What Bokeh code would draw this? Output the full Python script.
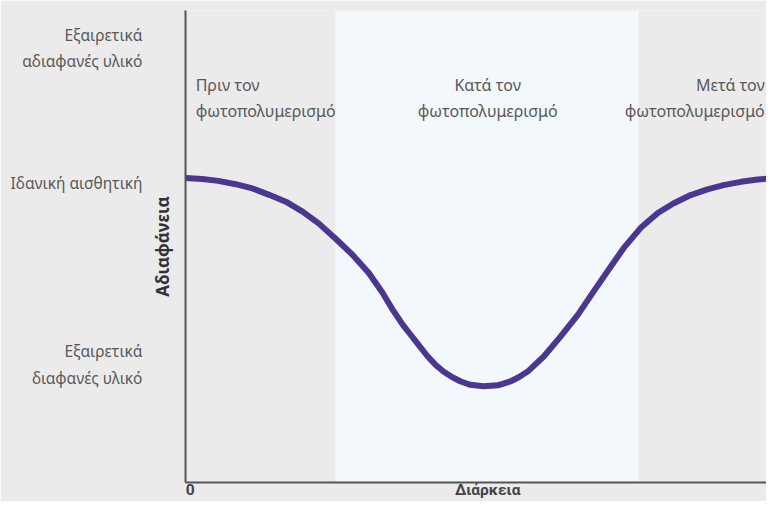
from bokeh.plotting import figure
from bokeh.models import FixedTicker, Range1d, ColumnDataSource, LinearAxis
from bokeh.core.properties import value
from bokeh.embed import file_html
from bokeh.resources import INLINE

# ---- data ----
time = [0, 2.8, 5.5, 8.4, 11.2, 13.9, 16.8, 19.6, 22.3, 25.1, 28.0, 30.7, 33.0, 34.8,
        36.4, 37.7, 39.0, 40.5, 41.9, 43.2, 44.7, 46.1, 47.7, 49.9, 52.3, 54.4, 55.8,
        57.3, 60.0, 62.8, 65.7, 68.3, 71.2, 73.4, 76.2, 79.1, 81.7, 84.6, 87.4, 90.1,
        93.0, 95.8, 100]
opacity = [64.5, 64.3, 63.9, 63.2, 62.3, 61.0, 59.5, 57.4, 54.9, 51.7, 48.2, 44.4, 40.2, 36.4,
           33.4, 31.3, 29.2, 26.8, 24.9, 23.5, 22.3, 21.4, 20.7, 20.4, 20.6, 21.4, 22.3,
           23.5, 26.7, 30.9, 35.5, 40.4, 45.7, 49.7, 53.9, 57.1, 59.1, 60.9, 62.1, 63.0,
           63.7, 64.2, 64.6]

level_values = [92.0, 63.4, 25.0]
level_labels = ["Εξαιρετικά\nαδιαφανές υλικό", "Ιδανική αισθητική", "Εξαιρετικά\nδιαφανές υλικό"]

phase_names = ["Πριν τον\nφωτοπολυμερισμό", "Κατά τον\nφωτοπολυμερισμό", "Μετά τον\nφωτοπολυμερισμό"]
phase_text_x = [1.7, 50.6, 97.0]
phase_align = ["left", "center", "right"]
phase_text_y = [81.5, 81.5, 81.5]
band_start = [25.1]
band_end = [75.9]

x_ticks = [0.8, 50.6]
x_tick_labels = ["0", "Διάρκεια"]
y_title = "Αδιαφάνεια"

BG = "#ebebec"
BAND = "#f3f8fc"
LINE = "#4b378f"
AXIS = "#555555"
TXT = "#595959"
FONT = "Noto Sans"

p = figure(width=766, height=501, output_backend="svg", toolbar_location=None,
           x_range=Range1d(0, 97.3), y_range=Range1d(0, 100),
           min_border_left=185, min_border_right=0, min_border_top=10, min_border_bottom=18)
p.background_fill_color = BG
p.border_fill_color = BG
p.outline_line_color = None
p.grid.visible = False

# band
p.quad(left=band_start, right=band_end, bottom=[0], top=[100],
       fill_color=BAND, line_color=None)

# curve
p.line(time, opacity, line_color=LINE, line_width=6, line_join="round", line_cap="round")

# phase labels
src = ColumnDataSource(dict(x=phase_text_x, y=phase_text_y, t=phase_names, a=phase_align))
p.text(x="x", y="y", text="t", text_align="a", source=src, text_baseline="middle",
       text_font=value(FONT), text_font_size="16px", text_color=TXT, text_line_height=1.2)

# inner y axis: line + title
ya = p.yaxis[0]
ya.ticker = FixedTicker(ticks=[])
ya.major_label_standoff = 0
ya.major_tick_out = 0
ya.major_tick_in = 0
ya.minor_tick_out = 0
ya.minor_tick_in = 0
ya.axis_line_color = AXIS
ya.axis_line_width = 2
ya.axis_label = y_title
ya.axis_label_standoff = 12
ya.axis_label_text_font = FONT
ya.axis_label_text_font_size = "17px"
ya.axis_label_text_font_style = "bold"
ya.axis_label_text_color = "#333333"

# outer y axis: level labels
ya2 = LinearAxis(ticker=FixedTicker(ticks=level_values),
                 major_label_overrides={v: l for v, l in zip(level_values, level_labels)})
ya2.axis_line_color = None
ya2.major_tick_out = 0
ya2.major_tick_in = 0
ya2.minor_tick_out = 0
ya2.minor_tick_in = 0
ya2.major_label_standoff = 5
ya2.major_label_text_font = FONT
ya2.major_label_text_font_size = "15.5px"
ya2.major_label_text_color = TXT
p.add_layout(ya2, "left")

# x axis
xa = p.xaxis[0]
xa.ticker = FixedTicker(ticks=x_ticks)
xa.major_label_overrides = {v: l for v, l in zip(x_ticks, x_tick_labels)}
xa.major_label_standoff = -2
xa.major_tick_out = 0
xa.major_tick_in = 0
xa.minor_tick_out = 0
xa.minor_tick_in = 0
xa.axis_line_color = AXIS
xa.axis_line_width = 2
xa.major_label_text_font = "Roboto"
xa.major_label_text_font_size = "15.5px"
xa.major_label_text_font_style = "bold"
xa.major_label_text_color = "#444444"

open("out.html", "w").write(file_html(p, INLINE))
